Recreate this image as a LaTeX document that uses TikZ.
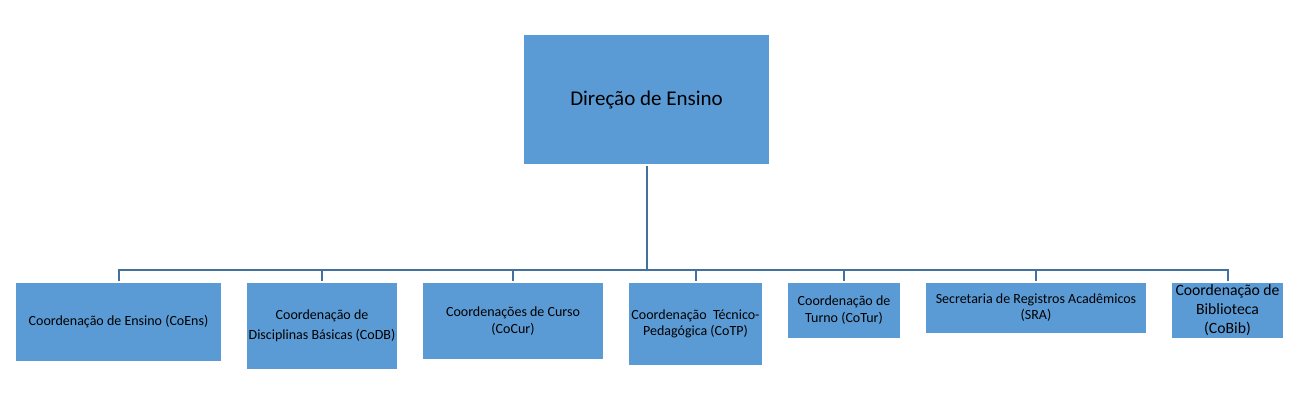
\documentclass[tikz,border=0pt]{standalone}
\usepackage{fontspec}
\setmainfont{Carlito}
\definecolor{boxblue}{HTML}{5B9BD5}
\definecolor{lineblue}{HTML}{41719C}
\begin{document}
\begin{tikzpicture}[x=1pt, y=-1pt,
        unit/.style = {fill=boxblue, align=center, inner sep=1pt, font=\fontsize{14}{17}\selectfont},
        link/.style = {draw=lineblue, line width=2pt}]
            \useasboundingbox (0,0) rectangle (1303,405);
            \node[unit, minimum width=245pt, minimum height=129pt, font=\fontsize{21}{25}\selectfont] (dir) at (646.5,99.5) {Direção de Ensino};
            \node[unit, minimum width=205pt, minimum height=78pt] (coens) at (118.5,322) {Coordenação de Ensino (CoEns)};
            \node[unit, minimum width=150pt, minimum height=86pt, font=\fontsize{14}{20}\selectfont] (codb) at (322,326) {Coordenação de\\Disciplinas Básicas (CoDB)};
            \node[unit, minimum width=180pt, minimum height=76pt] (cocur) at (513,321) {Coordenações de Curso\\(CoCur)};
            \node[unit, minimum width=133pt, minimum height=82pt, font=\fontsize{14}{16}\selectfont] (cotp) at (695.5,324) {Coordenação\ \ Técnico-\\Pedagógica (CoTP)};
            \node[unit, minimum width=112pt, minimum height=55pt] (cotur) at (844,310.5) {Coordenação de\\Turno (CoTur)};
            \node[unit, minimum width=220pt, minimum height=50pt, font=\fontsize{14}{16}\selectfont] (sra) at (1036,308) {Secretaria de Registros Acadêmicos\\(SRA)};
            \node[unit, minimum width=111pt, minimum height=55pt, font=\fontsize{15.7}{19}\selectfont] (cobib) at (1227.5,310.5) {Coordenação de\\Biblioteca\\(CoBib)};
            \coordinate (bar) at (646.5,270);
            \draw[link, shorten <=2pt] (dir) -- (bar);
            \draw[link, line cap=rect] (coens.north |- bar) -- (cobib.north |- bar);
            \foreach \x in {coens,codb,cocur,cotp,cotur,sra,cobib}
                \draw[link, shorten >=2pt] (\x.north |- bar) -- (\x.north);
        \end{tikzpicture}
\end{document}
